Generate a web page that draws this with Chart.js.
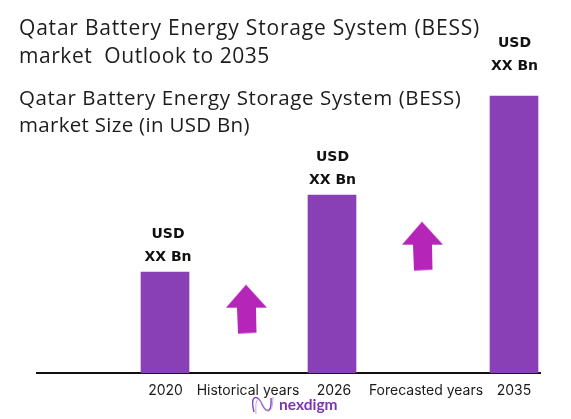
<!DOCTYPE html>
<html><head><meta charset="utf-8">
<style>html,body{margin:0;padding:0;background:#fff}#w{width:571px;height:419px;position:relative}</style>
<script src="https://cdn.jsdelivr.net/npm/chart.js@4"></script>
</head><body><div id="w"><canvas id="c" width="571" height="419"></canvas></div>
<script>
const categories = ['2020', '2026', '2035'];
const barSlots = [1.65, 3.32, 5.14];
const barValues = [1.01, 1.78, 2.77];
const valueLabel = ['USD', 'XX Bn'];
const axisLabels = ['2020', 'Historical years', '2026', 'Forecasted years', '2035'];
const axisLabelSlots = [1.655, 2.48, 3.34, 4.26, 5.14];
const arrowSlots = [2.47, 4.23];
const arrowValues = [0.635, 1.265];
const titleLines = ['Qatar Battery Energy Storage System (BESS)', 'market  Outlook to 2035'];
const subtitleLines = ['Qatar Battery Energy Storage System (BESS)', 'market Size (in USD Bn)'];
const brand = 'nexdigm';

function arrowImage(){
  const c = document.createElement('canvas'); c.width = 44; c.height = 52;
  const g = c.getContext('2d');
  g.fillStyle = '#b425b8';
  g.beginPath();
  g.moveTo(21,1); g.lineTo(42,24); g.lineTo(31,24); g.lineTo(31.5,49); g.lineTo(13,50); g.lineTo(12,24); g.lineTo(1,24);
  g.closePath(); g.fill();
  return c;
}
const textFont = '"Open Sans", sans-serif';
const labelLift = [0, 0, 15];
const labelShift = [3, 0.5, 0.5];
const overlay = {
  id:'overlay',
  afterDatasetsDraw(chart){
    const ctx = chart.ctx;
    ctx.save();
    ctx.fillStyle = '#1c1c1c'; ctx.textBaseline = 'alphabetic'; ctx.textAlign = 'left';
    ctx.font = '21px ' + textFont;
    ctx.letterSpacing = '0.8px';
    ctx.fillText(titleLines[0], 19, 35);
    ctx.letterSpacing = '0.55px';
    ctx.fillText(titleLines[1], 19, 63);
    ctx.font = '20.5px ' + textFont;
    ctx.letterSpacing = '0.6px';
    ctx.fillText(subtitleLines[0], 19, 105);
    ctx.letterSpacing = '0.3px';
    ctx.fillText(subtitleLines[1], 19, 132);
    ctx.letterSpacing = '0px';
    ctx.fillStyle = '#111'; ctx.textAlign = 'center';
    ctx.font = 'bold 14px "DejaVu Sans", sans-serif';
    chart.getDatasetMeta(0).data.forEach((b,i)=>{
      ctx.fillText(valueLabel[0], b.x + labelShift[i], b.y - 34 - labelLift[i]);
      ctx.fillText(valueLabel[1], b.x + labelShift[i], b.y - 11 - labelLift[i]);
    });
    ctx.textAlign = 'left';
    ctx.fillStyle = '#7a35b5';
    ctx.font = 'bold 15.5px "Lato", sans-serif';
    ctx.fillText(brand, 279, 410);
    ctx.strokeStyle = '#7a45c0'; ctx.lineWidth = 1.4;
    ctx.beginPath(); ctx.moveTo(254,412); ctx.bezierCurveTo(250,396,256,394,261,402); ctx.bezierCurveTo(265,412,272,416,271,398); ctx.stroke();
    ctx.strokeStyle = '#c9a0e0'; ctx.lineWidth = 1;
    ctx.beginPath(); ctx.moveTo(256,414); ctx.bezierCurveTo(255,398,258,396,263,405); ctx.bezierCurveTo(267,414,273,414,273,397); ctx.stroke();
    ctx.restore();
  }
};
new Chart(document.getElementById('c'), {
  data:{ datasets:[
    { type:'bar', label:'Market size', data:barSlots.map((x,i)=>({x, y:barValues[i]})), backgroundColor:'#893fb6', barThickness:48, order:2 },
    { type:'scatter', label:'Trend', data:arrowSlots.map((x,i)=>({x, y:arrowValues[i]})), pointStyle:arrowImage(), pointRadius:20, order:1 }
  ]},
  options:{
    responsive:false, animation:false, devicePixelRatio:1,
    layout:{ padding:{ left:37, right:31, top:0, bottom:11 } },
    plugins:{ legend:{display:false}, tooltip:{enabled:false}, title:{display:false} },
    scales:{
      x:{ type:'linear', offset:false, min:0.37, max:5.40,
        grid:{display:false, drawTicks:false},
        border:{color:'#111', width:2},
        afterBuildTicks(s){ s.ticks = axisLabelSlots.map(value=>({value})); },
        ticks:{ autoSkip:false, maxRotation:0, padding:9, color:'#1a1a1a', font:{family:'"Inter", sans-serif', size:14},
          callback(v){ const i = axisLabelSlots.indexOf(v); return i>=0 ? axisLabels[i] : ''; } }
      },
      y:{ display:false, min:0, max:3.52 }
    }
  },
  plugins:[overlay]
});
</script></body></html>
